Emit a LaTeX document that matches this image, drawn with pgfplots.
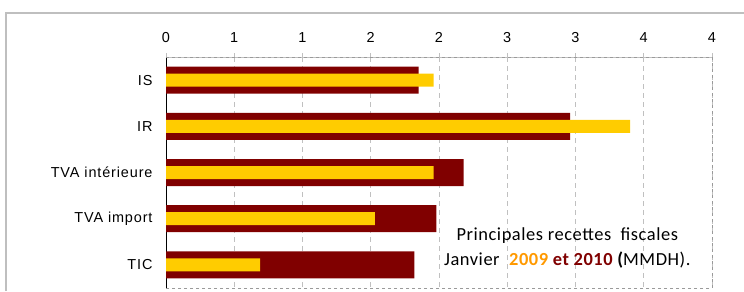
\documentclass[border=0pt]{standalone}
\usepackage{fontspec}
\setmainfont{Liberation Sans}[LetterSpace=6]
\newfontfamily\calibri{Carlito}[LetterSpace=3]
\usepackage{pgfplots}
\pgfplotsset{compat=1.18}
\definecolor{darkred}{HTML}{800000}
\definecolor{gold}{HTML}{FFCC00}
\definecolor{orng}{HTML}{FF9900}
\definecolor{gridgray}{HTML}{C0C0C0}
\definecolor{framegray}{HTML}{BFBFBF}
\begin{document}
\begin{tikzpicture}[x=1bp,y=1bp]
\path[use as bounding box] (0,0) rectangle (744,291);
\draw[framegray, line width=1.5bp] (6,0) -- (6,278) -- (744,278);
\begin{axis}[
  at={(166bp,3bp)}, anchor=south west,
  scale only axis, width=546bp, height=231bp,
  xbar, y dir=reverse, bar shift=0pt,
  xmin=0, xmax=4, ymin=-0.5, ymax=4.5,
  axis x line*=top, axis y line*=left,
  x axis line style={gridgray, line width=0.8bp},
  y axis line style={black, line width=0.8bp},
  xtick={0,0.5,...,4}, xticklabels={0,1,1,2,2,3,3,4,4},
  x tick style={gridgray, line width=0.8bp},
  ytick={0,1,2,3,4},
  yticklabels={IS,IR,TVA intérieure,TVA import,TIC},
  y tick style={draw=none},
  extra y ticks={-0.5,0.5,1.5,2.5,3.5,4.5},
  extra y tick labels={},
  extra y tick style={tick style={black, line width=0.8bp, draw=black}, major tick length=5bp, tick align=outside},
  major tick length=4bp, tick align=outside,
  xmajorgrids, grid style={gridgray, dash pattern=on 5bp off 4bp, line width=0.8bp},
  ticklabel style={font=\fontsize{14.5}{16}\selectfont},
  /pgf/number format/assume math mode=true,
  xticklabel style={yshift=7bp},
  yticklabel style={xshift=-6bp},
  clip=false,
]
\addplot[xbar, bar width=27bp, fill=darkred, draw=none] coordinates {
 (1.85,0) (2.96,1) (2.18,2) (1.98,3) (1.82,4)};
\addplot[xbar, bar width=13bp, fill=gold, draw=none] coordinates {
 (1.96,0) (3.40,1) (1.96,2) (1.53,3) (0.69,4)};
\draw[gridgray!80!black, dash pattern=on 3bp off 3bp, line width=0.9bp] (rel axis cs:0,1) -- (rel axis cs:1,1) -- (rel axis cs:1,0) -- (rel axis cs:0,0);
\node[font=\calibri\fontsize{18.5}{26}\selectfont, align=center, anchor=center, inner sep=0pt] at (rel axis cs:0.735,0.173)
 {Principales recettes\ \ fiscales\\Janvier\ \ {\color{orng}\bfseries 2009} {\color{darkred}\bfseries et 2010} {\bfseries(}MMDH).};
\end{axis}
\end{tikzpicture}
\end{document}
